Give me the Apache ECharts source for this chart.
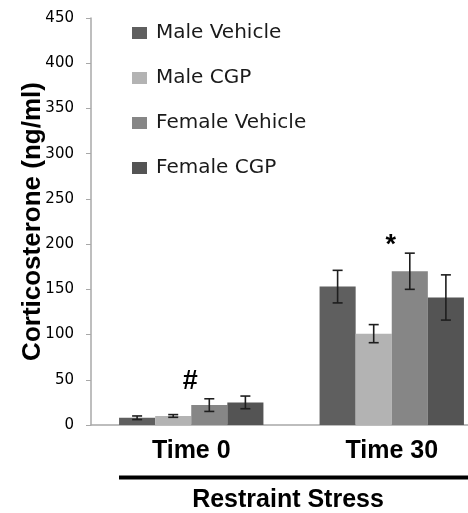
<!DOCTYPE html>
<html>
<head>
<meta charset="utf-8">
<script src="https://cdn.jsdelivr.net/npm/echarts@6/dist/echarts.min.js"></script>
<style>
  html, body { margin: 0; padding: 0; background: #fff; }
  #chart { width: 468px; height: 513px; }
</style>
</head>
<body>
<div id="chart"></div>
<script>
// Plasma corticosterone after restraint stress, mean ± SEM
const categories = ['Time 0', 'Time 30'];
const seriesNames = ['Male Vehicle', 'Male CGP', 'Female Vehicle', 'Female CGP'];
const maleVehicle = [8, 153];
const maleCGP = [10, 101];
const femaleVehicle = [22, 170];
const femaleCGP = [25, 141];
const maleVehicleErr = [2, 18];
const maleCGPErr = [1.5, 10];
const femaleVehicleErr = [7, 20];
const femaleCGPErr = [7, 25];
const yTicks = [0, 50, 100, 150, 200, 250, 300, 350, 400, 450];
// significance markers: [category, value, symbol]
const significance = [['Time 0', 48, '#'], ['Time 30', 198, '*']];

const means = [maleVehicle, maleCGP, femaleVehicle, femaleCGP];
const errs = [maleVehicleErr, maleCGPErr, femaleVehicleErr, femaleCGPErr];
const colors = ['#5f5f5f', '#b3b3b3', '#868686', '#545454'];
const categoryGap = 0.28;

const chart = echarts.init(document.getElementById('chart'), null, { renderer: 'canvas' });

const barSeries = seriesNames.map((name, i) => ({
  name: name,
  type: 'bar',
  data: means[i],
  barGap: '0%',
  barCategoryGap: (categoryGap * 100) + '%',
  itemStyle: { color: colors[i] },
  emphasis: { disabled: true }
}));

const errorSeries = seriesNames.map((name, i) => ({
  type: 'custom',
  name: name + ' error',
  z: 5,
  silent: true,
  data: categories.map((c, k) => [k, means[i][k] - errs[i][k], means[i][k] + errs[i][k]]),
  renderItem: function (params, api) {
    const k = api.value(0);
    const lo = api.coord([k, api.value(1)]);
    const hi = api.coord([k, api.value(2)]);
    const band = api.size([1, 0])[0];
    const groupW = band * (1 - categoryGap);
    const barW = groupW / seriesNames.length;
    const x = lo[0] - groupW / 2 + barW * (i + 0.5);
    const cap = 5;
    const style = { stroke: '#1e1e1e', lineWidth: 1.6 };
    return {
      type: 'group',
      children: [
        { type: 'line', shape: { x1: x, y1: lo[1], x2: x, y2: hi[1] }, style: style },
        { type: 'line', shape: { x1: x - cap, y1: lo[1], x2: x + cap, y2: lo[1] }, style: style },
        { type: 'line', shape: { x1: x - cap, y1: hi[1], x2: x + cap, y2: hi[1] }, style: style }
      ]
    };
  }
}));

const markSeries = {
  type: 'custom',
  name: 'significance',
  silent: true,
  z: 6,
  data: significance.map(s => [categories.indexOf(s[0]), s[1], s[2]]),
  renderItem: function (params, api) {
    const p = api.coord([api.value(0), api.value(1)]);
    return {
      type: 'text',
      x: p[0] - 1,
      y: p[1],
      style: {
        text: significance[params.dataIndex][2],
        font: 'bold 27px "Liberation Sans", Arial, sans-serif',
        fill: '#000',
        align: 'center',
        verticalAlign: 'middle'
      }
    };
  }
};

chart.setOption({
  animation: false,
  backgroundColor: '#fff',
  color: colors,
  grid: {
    left: 91,
    right: -24,
    top: 18,
    bottom: 88,
    outerBoundsMode: 'none'
  },
  legend: {
    data: seriesNames,
    orient: 'vertical',
    left: 127,
    top: 18,
    itemWidth: 15,
    itemHeight: 12,
    itemGap: 25,
    icon: 'rect',
    selectedMode: false,
    textStyle: {
      fontFamily: '"DejaVu Sans", sans-serif',
      fontSize: 20,
      lineHeight: 20,
      color: '#1a1a1a',
      padding: [0, 0, 0, 4]
    }
  },
  xAxis: {
    type: 'category',
    data: categories,
    axisLine: { lineStyle: { color: '#a8a8a8', width: 1.5 } },
    axisTick: { show: false },
    axisLabel: {
      margin: 14,
      fontFamily: '"Liberation Sans", Arial, sans-serif',
      fontWeight: 'bold',
      fontSize: 25,
      lineHeight: 25,
      color: '#000'
    }
  },
  yAxis: {
    type: 'value',
    min: yTicks[0],
    max: yTicks[yTicks.length - 1],
    interval: yTicks[1] - yTicks[0],
    name: 'Corticosterone (ng/ml)',
    nameLocation: 'middle',
    nameGap: 45,
    nameMoveOverlap: false,
    nameTextStyle: {
      fontFamily: '"Liberation Sans", Arial, sans-serif',
      fontWeight: 'bold',
      fontSize: 26,
      color: '#000'
    },
    splitLine: { show: false },
    axisLine: { show: true, lineStyle: { color: '#a8a8a8', width: 1.5 } },
    axisTick: { show: true, length: 5, lineStyle: { color: '#a8a8a8' } },
    axisLabel: {
      margin: 17,
      fontFamily: '"DejaVu Sans", sans-serif',
      fontSize: 15,
      color: '#000'
    }
  },
  graphic: [
    {
      type: 'line',
      shape: { x1: 119, y1: 477.5, x2: 470, y2: 477.5 },
      style: { stroke: '#000', lineWidth: 4 }
    },
    {
      type: 'text',
      x: 288,
      y: 500,
      style: {
        text: 'Restraint Stress',
        font: 'bold 25px "Liberation Sans", Arial, sans-serif',
        fill: '#000',
        align: 'center',
        verticalAlign: 'middle'
      }
    }
  ],
  series: barSeries.concat(errorSeries, [markSeries])
});
</script>
</body>
</html>
